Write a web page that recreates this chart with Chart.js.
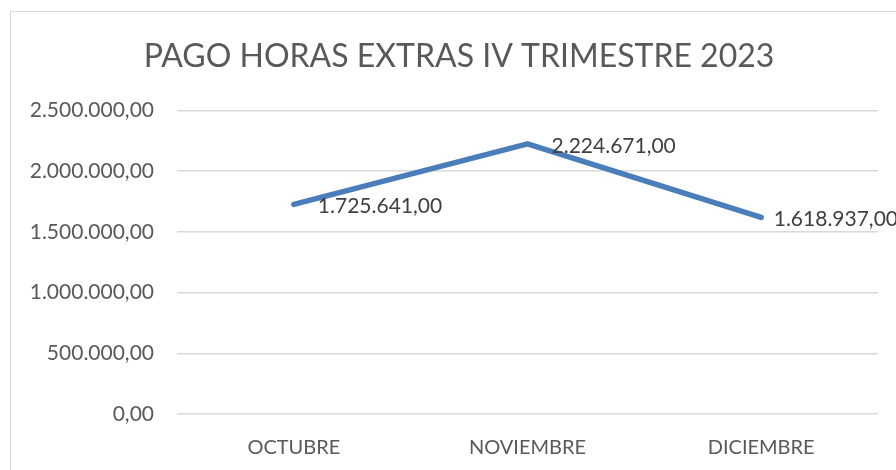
<!DOCTYPE html>
<html>
<head>
<meta charset="utf-8">
<script src="https://cdn.jsdelivr.net/npm/chart.js@4/dist/chart.umd.min.js"></script>
<style>
   html, body { margin: 0; padding: 0; background: #fff; overflow: hidden; }
   .frame { position: absolute; left: 10px; top: 11px; width: 920px; height: 500px; border: 1px solid #d9d9d9; }
   .wrap { position: absolute; left: 10px; top: 0; width: 898px; height: 470px; }
</style>
</head>
<body>
<div class="frame"></div>
<div class="wrap"><canvas id="myChart" width="898" height="470"></canvas></div>
<script>
const months = ['OCTUBRE', 'NOVIEMBRE', 'DICIEMBRE'],
   pagos = [1725641, 2224671, 1618937], // valores
   yTicks = [0, 500000, 1000000, 1500000, 2000000, 2500000],
   chartTitle = 'PAGO HORAS EXTRAS IV TRIMESTRE 2023';

// formato tipo 1.725.641,00
function formatNumber(x) {
   const parts = Number(x).toFixed(2).split('.');
   return parts[0].replace(/\B(?=(\d{3})+(?!\d))/g, '.') + ',' + parts[1];
}

// etiquetas de datos a la derecha de cada punto (como Excel, no salen del borde del gráfico)
const valueLabels = {
   id: 'valueLabels',
   afterDatasetsDraw(chart) {
      const ctx = chart.ctx;
      const meta = chart.getDatasetMeta(0);
      ctx.save();
      ctx.font = '21px Lato';
      ctx.fillStyle = '#404040';
      ctx.textAlign = 'left';
      ctx.textBaseline = 'middle';
      meta.data.forEach((pt, i) => {
         const txt = formatNumber(pagos[i]);
         const w = ctx.measureText(txt).width;
         let x = pt.x + 24;
         if (x + w > chart.width - 10) x = chart.width - 10 - w;
         ctx.fillText(txt, x, pt.y + 2);
      });
      ctx.restore();
   }
};

// el título en Excel queda centrado en todo el marco, lo corro un poco a la derecha
const titleShift = {
   id: 'titleShift',
   afterLayout(chart) {
      if (chart.titleBlock) {
         chart.titleBlock.left += 10;
         chart.titleBlock.right += 10;
      }
   }
};

const ctx = document.getElementById('myChart').getContext('2d');

const chart = new Chart(ctx, {
   type: 'line',
   data: {
      labels: months,
      datasets: [{
         data: pagos,
         borderColor: '#4a7ebb',
         borderWidth: 5.5,
         borderCapStyle: 'round',
         borderJoinStyle: 'round',
         pointRadius: 0,
         tension: 0,
         fill: false
      }]
   },
   options: {
      responsive: false,
      animation: false,
      layout: { padding: { top: 37, left: 10, right: 30, bottom: 0 } },
      plugins: {
         legend: { display: false },
         tooltip: { enabled: false },
         title: {
            display: true,
            text: chartTitle,
            color: '#595959',
            font: { family: 'Lato', size: 32, weight: 'normal' },
            padding: { top: 0, bottom: 35 }
         }
      },
      scales: {
         x: {
            offset: true,
            grid: { display: false, drawTicks: false },
            border: { display: false },
            ticks: { color: '#595959', font: { family: 'Lato', size: 20 }, padding: 22 },
            afterFit: (scale) => { scale.height = 56; }
         },
         y: {
            min: 0,
            max: 2500000,
            afterBuildTicks: (scale) => { scale.ticks = yTicks.map(v => ({ value: v })); },
            grid: { color: '#d9d9d9', lineWidth: 1.5, drawTicks: false },
            border: { display: false },
            ticks: {
               color: '#595959',
               font: { family: 'Lato', size: 21 },
               padding: 23,
               callback: (v) => formatNumber(v)
            },
            afterFit: (scale) => { scale.width = 157; }
         }
      }
   },
   plugins: [valueLabels, titleShift]
});
</script>
</body>
</html>
